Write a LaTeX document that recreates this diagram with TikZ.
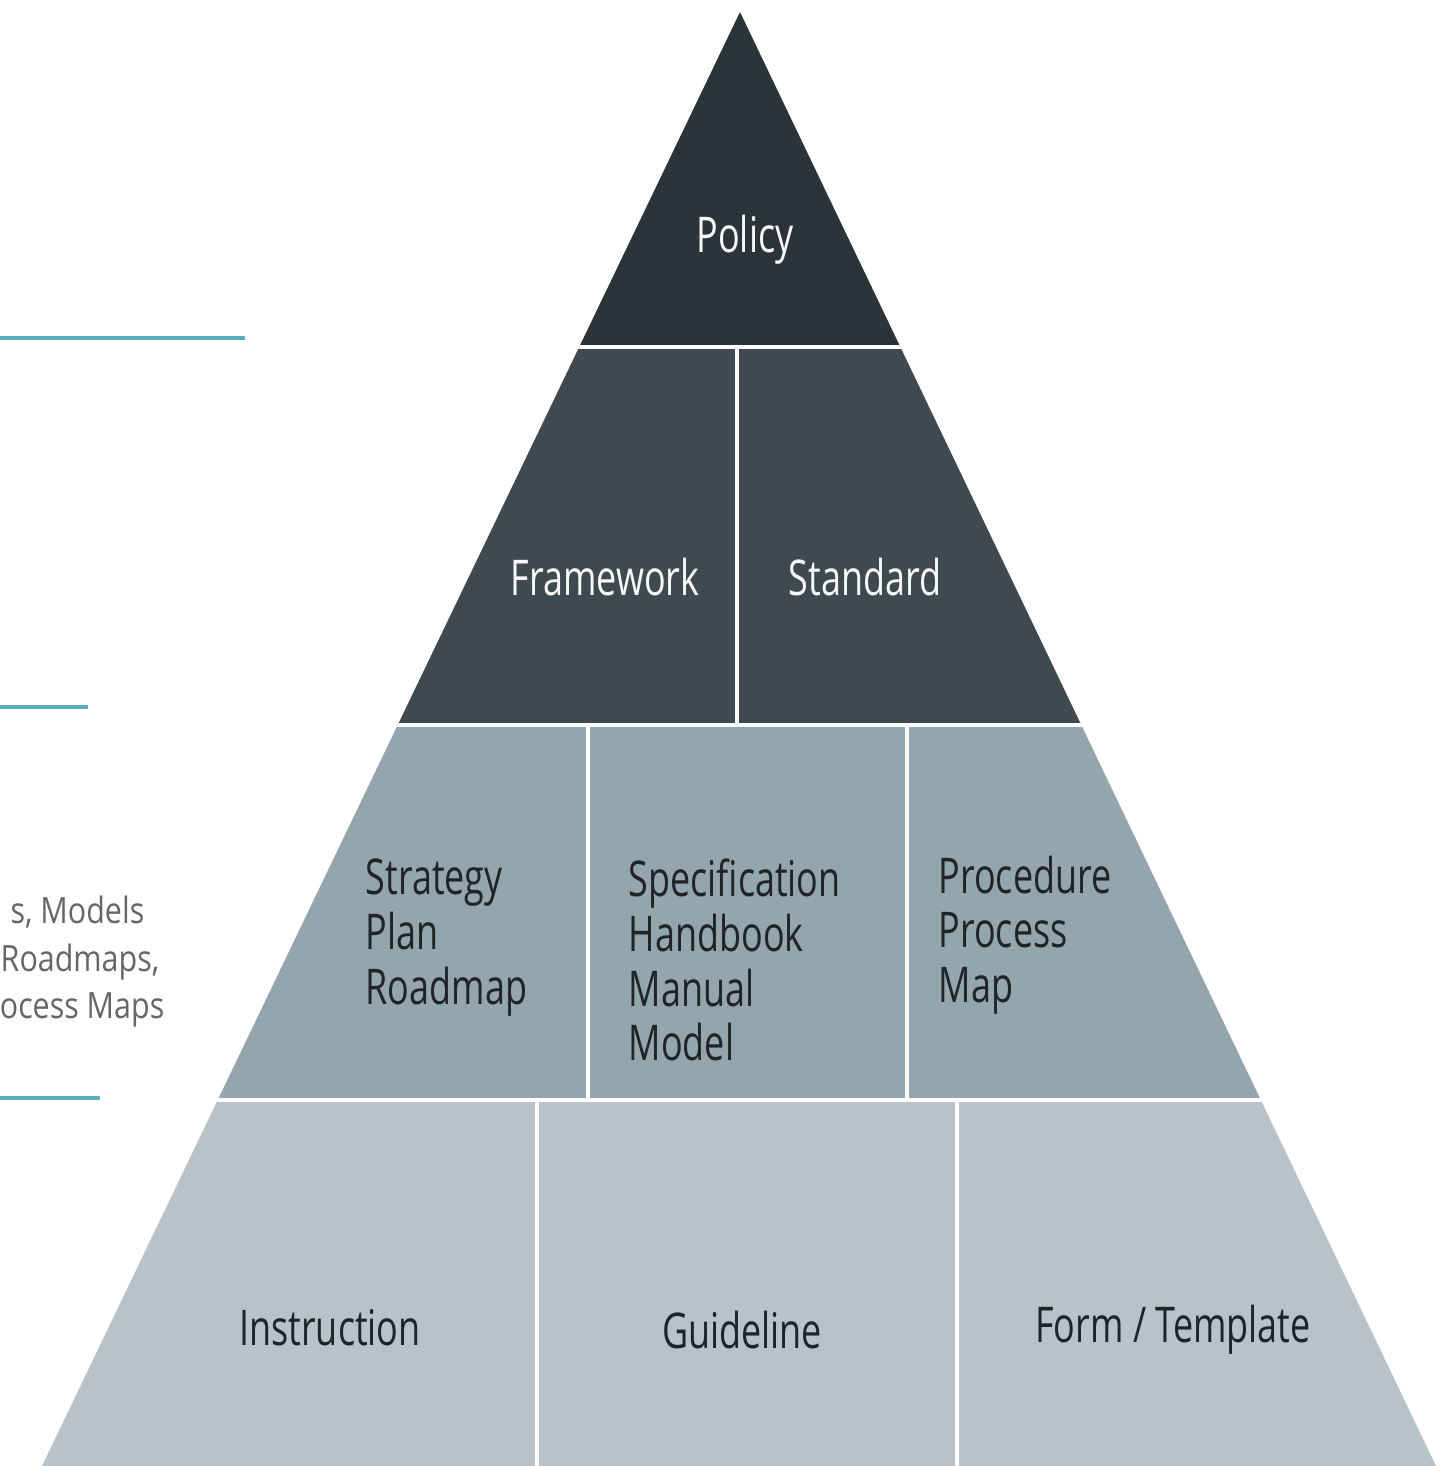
\documentclass[tikz,border=0pt]{standalone}
\usepackage{fontspec}
\setmainfont{Open Sans}[FakeStretch=0.73]
\newfontfamily\sidefont{Open Sans}[FakeStretch=0.84]
\usetikzlibrary{positioning}

\definecolor{tierone}{HTML}{2B3438}
\definecolor{tiertwo}{HTML}{3F4A50}
\definecolor{tierthree}{HTML}{95A5AD}
\definecolor{tierfour}{HTML}{B8C3C9}
\definecolor{rule}{HTML}{57B0C0}
\definecolor{ink}{HTML}{1E2428}

\begin{document}
\begin{tikzpicture}[
  x=0.01cm, y=-0.01cm,
  font=\fontsize{14}{15.6}\selectfont,
  gap/.style={draw=white, line width=1.2pt},
  lighttext/.style={text=white!92!tierthree, inner sep=0pt},
  darktext/.style={text=ink, inner sep=0pt, align=left},
  sidetext/.style={text=black!60, inner sep=0pt, font=\sidefont\fontsize{10.3}{13.9}\selectfont},
  siderule/.style={draw=rule, line width=1.15pt}
]
\useasboundingbox (0,0) rectangle (1449,1466);

% pyramid bands
\begin{scope}
  \clip (740,12) -- (42,1466) -- (1436,1466) -- cycle;
  \fill[tierone]   (0,0)    rectangle (1449,347);
  \fill[tiertwo]   (0,347)  rectangle (1449,725);
  \fill[tierthree] (0,725)  rectangle (1449,1100);
  \fill[tierfour]  (0,1100) rectangle (1449,1466);
  \draw[gap] (0,347)  -- (1449,347);
  \draw[gap] (0,725)  -- (1449,725);
  \draw[gap] (0,1100) -- (1449,1100);
  \draw[gap] (737,347)  -- (737,725);
  \draw[gap] (588,725)  -- (588,1100);
  \draw[gap] (907,725)  -- (907,1100);
  \draw[gap] (537,1100) -- (537,1466);
  \draw[gap] (957,1100) -- (957,1466);
\end{scope}

% labels
\node[lighttext] (policy)    at (745,240) {Policy};
\node[lighttext] (framework) at (605,577) {Framework};
\node[lighttext] (standard)  at (865,577) {Standard};

\node[darktext, anchor=north west] (strategy) at (365,858) {Strategy\\Plan\\Roadmap};
\node[darktext, anchor=north west] (spec)     at (628,858) {Specification\\Handbook\\Manual\\Model};
\node[darktext, anchor=north west] (proc)     at (938,855) {Procedure\\Process\\Map};

\node[darktext] (instruction) at (330,1328) {Instruction};
\node[darktext] (guideline)   at (742,1330) {Guideline};
\node[darktext] (form)        at (1173,1330) {Form / Template};

% side notes
\draw[siderule] (0,338)  -- (245,338);
\draw[siderule] (0,707)  -- (88,707);
\draw[siderule] (0,1098) -- (100,1098);

\node[sidetext, anchor=east] (sidea) at (145,912)  {s, Models};
\node[sidetext, anchor=east] (sideb) at (160,962)  {Roadmaps,};
\node[sidetext, anchor=east] (sidec) at (165,1010) {ocess Maps};

\end{tikzpicture}
\end{document}
